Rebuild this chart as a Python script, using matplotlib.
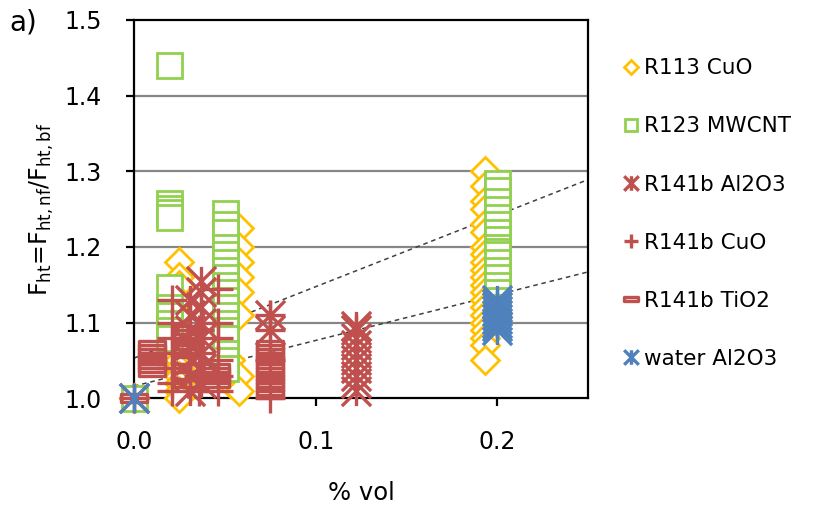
import numpy as np
import matplotlib
matplotlib.use("Agg")
import matplotlib.pyplot as plt
from matplotlib.path import Path

plt.rcParams['font.family'] = ['DejaVu Sans']
plt.rcParams['mathtext.default'] = 'regular'

# x groups (% vol) and the values read at each group
r113_cuo_x = [0.0, 0.025, 0.053, 0.058, 0.193]
r113_cuo_y = [
    [1.0],
    [1.18, 1.16, 1.15, 1.13, 1.11, 1.09, 1.07, 1.05, 1.04, 1.03, 1.02, 1.01, 1.0],
    [1.19, 1.17, 1.15, 1.13, 1.10, 1.05, 1.02],
    [1.225, 1.2, 1.18, 1.16, 1.14, 1.11, 1.03, 1.01],
    [1.3, 1.28, 1.26, 1.25, 1.23, 1.22, 1.2, 1.19, 1.18, 1.17, 1.16, 1.15,
     1.14, 1.13, 1.12, 1.11, 1.1, 1.09, 1.08, 1.07, 1.05],
]

r123_mwcnt_x = [0.0, 0.019, 0.05, 0.2]
r123_mwcnt_y = [
    [1.0],
    [1.44, 1.258, 1.252, 1.246, 1.24, 1.147, 1.12, 1.11, 1.1, 1.09, 1.08],
    [1.245, 1.23, 1.22, 1.2, 1.19, 1.18, 1.17, 1.16, 1.15, 1.14, 1.13, 1.12,
     1.11, 1.1, 1.09, 1.08, 1.06, 1.05, 1.04],
    [1.285, 1.275, 1.26, 1.25, 1.24, 1.23, 1.22, 1.21, 1.2, 1.195, 1.19, 1.18,
     1.17, 1.16, 1.15, 1.14, 1.13, 1.12],
]

r141b_al2o3_x = [0.0, 0.031, 0.037, 0.075, 0.122]
r141b_al2o3_y = [
    [1.0],
    [1.13, 1.11, 1.09, 1.07, 1.05, 1.03, 1.01],
    [1.155, 1.14, 1.12, 1.1, 1.08, 1.06, 1.04, 1.02],
    [1.11, 1.09],
    [1.095, 1.09, 1.08, 1.07, 1.06, 1.05, 1.04, 1.03, 1.02, 1.01],
]

r141b_cuo_x = [0.0, 0.021, 0.036, 0.046, 0.075]
r141b_cuo_y = [
    [1.0],
    [1.13, 1.1, 1.08, 1.06, 1.04, 1.02, 1.01],
    [1.09, 1.06, 1.03, 1.01],
    [1.145, 1.1, 1.08, 1.05, 1.03, 1.01],
    [1.11, 1.09, 1.05, 1.0],
]

r141b_tio2_x = [0.0, 0.01, 0.029, 0.045, 0.075]
r141b_tio2_y = [
    [1.0],
    [1.07, 1.065, 1.06, 1.055, 1.05, 1.045, 1.04, 1.035],
    [1.09, 1.085, 1.08, 1.07, 1.065, 1.06, 1.05, 1.04, 1.03, 1.02],
    [1.04, 1.035, 1.03, 1.025, 1.02],
    [1.07, 1.065, 1.06, 1.055, 1.05, 1.045, 1.04, 1.035, 1.03, 1.025, 1.02,
     1.015, 1.01, 1.005],
]

water_al2o3_x = [0.0, 0.2]
water_al2o3_y = [
    [1.0],
    [1.13, 1.125, 1.12, 1.115, 1.11, 1.105, 1.1, 1.095, 1.09],
]

# the two dashed trend lines
trend_x = [0.0, 0.25]
trend1_y = [1.053, 1.289]
trend2_y = [1.016, 1.167]

labels = ['R113 CuO', 'R123 MWCNT', 'R141b Al2O3', 'R141b CuO', 'R141b TiO2', 'water Al2O3']

# custom markers: excel style asterisk and dash box
star = Path([(-1, -1), (1, 1), (-1, 1), (1, -1), (0, -1), (0, 1)],
            [Path.MOVETO, Path.LINETO, Path.MOVETO, Path.LINETO, Path.MOVETO, Path.LINETO])
dash = Path([(-1, -0.3), (1, -0.3), (1, 0.3), (-1, 0.3), (-1, -0.3)],
            [Path.MOVETO, Path.LINETO, Path.LINETO, Path.LINETO, Path.CLOSEPOLY])

orange = '#FFC000'
green = '#92D050'
red = '#C0504D'
blue = '#4F81BD'

series = [
    (r113_cuo_x, r113_cuo_y, dict(marker='D', ms=14, mfc='white', mec=orange, mew=2)),
    (r123_mwcnt_x, r123_mwcnt_y, dict(marker='s', ms=18, mfc='white', mec=green, mew=2)),
    (r141b_al2o3_x, r141b_al2o3_y, dict(marker=star, ms=21, mfc='none', mec=red, mew=2.4)),
    (r141b_cuo_x, r141b_cuo_y, dict(marker='+', ms=21, mec=red, mew=2.4)),
    (r141b_tio2_x, r141b_tio2_y, dict(marker=dash, ms=19, mfc='none', mec=red, mew=2.4)),
    (water_al2o3_x, water_al2o3_y, dict(marker=star, ms=21, mfc='none', mec=blue, mew=2.4)),
]

fig = plt.figure(figsize=(8.17, 5.08), dpi=100)
ax = fig.add_axes([0.164, 0.216, 0.556, 0.745])

ax.set_xlim(0, 0.25)
ax.set_ylim(1.0, 1.5)
ax.set_yticks([1.0, 1.1, 1.2, 1.3, 1.4, 1.5])
ax.set_xticks([0.0, 0.1, 0.2])
ax.yaxis.set_major_formatter(matplotlib.ticker.FormatStrFormatter('%.1f'))
ax.xaxis.set_major_formatter(matplotlib.ticker.FormatStrFormatter('%.1f'))

for yv in [1.1, 1.2, 1.3, 1.4]:
    ax.axhline(yv, color='#868686', lw=1.6, zorder=1)

ax.plot(trend_x, trend1_y, ls=(0, (3, 2.5)), color='#404040', lw=1.1, zorder=2)
ax.plot(trend_x, trend2_y, ls=(0, (3, 2.5)), color='#404040', lw=1.1, zorder=2)

handles = []
for i, (xs, ys, style) in enumerate(series):
    for xv, yv in zip(xs, ys):
        ax.plot(np.full(len(yv), xv), yv, ls='none', clip_on=False, zorder=3 + i, **style)
    h, = ax.plot([], [], ls='none', label=labels[i], **style)
    handles.append(h)

for s in ax.spines.values():
    s.set_linewidth(1.6)
    s.set_color('black')
ax.tick_params(direction='out', length=6, width=1.6, labelsize=17)
ax.tick_params(axis='y', pad=17)
ax.tick_params(axis='x', pad=17)

ax.set_xlabel('% vol', fontsize=17.5, labelpad=19)
ax.set_ylabel(r'$F_{ht}$=$F_{ht,nf}$/$F_{ht,bf}$', fontsize=17, labelpad=6)
fig.text(0.012, 0.955, 'a)', fontsize=20, va='center')

ax.legend(handles=handles, loc='upper left', bbox_to_anchor=(1.0, 0.995),
          frameon=False, fontsize=15.5, markerscale=0.5, handlelength=0.6,
          handletextpad=0.3, labelspacing=1.77, borderaxespad=1.3)

fig.savefig('out.png', dpi=100)
